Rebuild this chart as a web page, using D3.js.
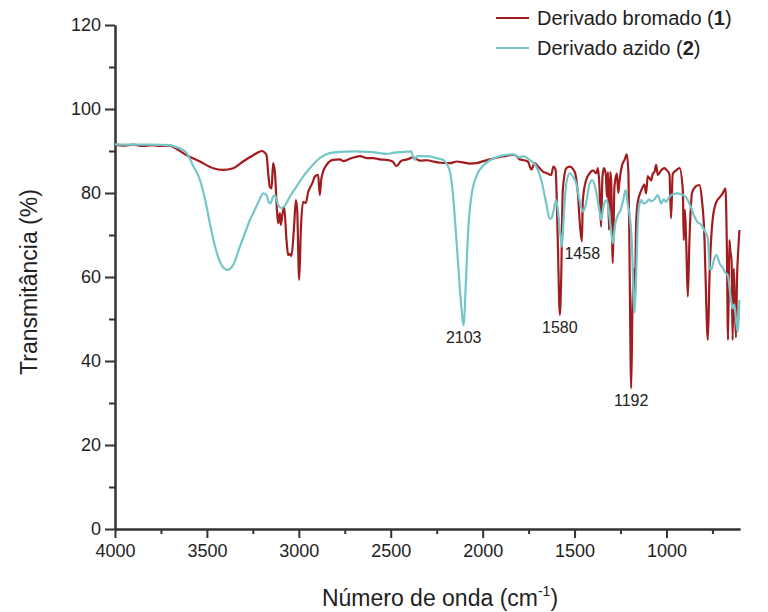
<!doctype html>
<html lang="pt">
<head>
<meta charset="UTF-8">
<title>Espectro de IV</title>
<style>
  body { margin: 0; background: #fff; }
  svg { display: block; font-family: "Liberation Sans", Arial, sans-serif; }
  .axis path, .axis line { stroke: #333; stroke-width: 2; }
  .axis text { font-size: 18px; fill: #222; }
  .serie { fill: none; stroke-width: 2.2; stroke-linejoin: round; }
</style>
</head>
<body>
<svg id="chart" width="768" height="612"></svg>
<script src="https://d3js.org/d3.v7.min.js"></script>
<script>
// Derivado bromado (1)
var bromWn = [4000, 3950, 3900, 3850, 3800, 3750, 3700, 3685, 3610, 3538, 3466, 3413, 3357, 3303, 3248, 3200,
  3185, 3176, 3165, 3158, 3148, 3140, 3130, 3118, 3112, 3103, 3098, 3089, 3080, 3067, 3058, 3049, 3040, 3027,
  3016, 3009, 2998, 2989, 2977, 2962, 2949, 2940, 2926, 2913, 2895, 2886, 2877, 2849, 2814, 2777, 2759, 2720,
  2668, 2630, 2596, 2560, 2523, 2490, 2469, 2442, 2410, 2379, 2342, 2300, 2270, 2230, 2179, 2140, 2107, 2070,
  2034, 1995, 1962, 1925, 1890, 1835, 1815, 1799, 1775, 1754, 1735, 1717, 1700, 1672, 1650, 1627, 1615, 1603,
  1592, 1580, 1573, 1564, 1545, 1527, 1500, 1482, 1470, 1460, 1455, 1437, 1418, 1400, 1382, 1373, 1365, 1356,
  1348, 1340, 1330, 1324, 1318, 1313, 1306, 1301, 1292, 1283, 1270, 1262, 1255, 1241, 1228, 1216, 1207, 1201,
  1192, 1185, 1178, 1172, 1165, 1156, 1138, 1120, 1111, 1102, 1083, 1075, 1065, 1056, 1047, 1029, 1011, 1002,
  984, 975, 966, 947, 929, 911, 906, 900, 893, 884, 875, 861, 842, 821, 807, 793, 788, 775, 766, 749, 730, 712,
  694, 679, 672, 665, 658, 652, 646, 640, 634, 628, 622, 616, 610, 603];
var bromT = [91.5, 91.3, 91.5, 91.2, 91.4, 91.2, 91.3, 91.0, 89.0, 87.5, 85.9, 85.5, 85.9, 87.5, 89.0, 90.0,
  89.6, 89.0, 84.0, 81.5, 81.1, 87.1, 84.8, 75.2, 72.8, 75.2, 72.4, 75.0, 76.7, 68.8, 65.2, 65.5, 65.0, 71.2,
  78.3, 76.0, 59.3, 71.2, 77.9, 77.6, 80.3, 81.2, 82.4, 83.9, 84.3, 79.5, 83.5, 86.7, 87.9, 88.0, 87.6, 88.2,
  88.8, 88.3, 88.3, 88.0, 87.9, 87.5, 86.4, 87.7, 88.0, 88.5, 87.7, 87.8, 87.5, 87.2, 87.1, 87.5, 87.3, 87.0,
  87.1, 87.6, 88.0, 88.4, 88.7, 89.1, 88.8, 88.0, 87.8, 87.5, 85.6, 87.1, 86.4, 85.1, 84.7, 84.3, 86.3, 85.5,
  70.0, 51.0, 59.3, 80.7, 85.9, 86.3, 85.1, 79.9, 72.0, 68.5, 78.3, 83.1, 84.7, 85.4, 84.7, 85.9, 82.0, 72.0,
  84.0, 85.9, 84.5, 79.1, 85.0, 71.2, 85.0, 83.1, 63.3, 81.5, 84.7, 80.0, 83.1, 86.7, 87.9, 89.2, 84.7, 65.0,
  33.5, 53.0, 62.0, 53.0, 72.8, 77.9, 80.5, 82.0, 79.9, 84.0, 83.0, 84.5, 85.1, 86.7, 84.3, 85.4, 85.9, 85.6,
  84.5, 74.0, 84.5, 85.4, 85.9, 80.7, 68.8, 76.0, 68.8, 55.3, 68.8, 80.0, 81.5, 81.9, 78.3, 68.8, 61.0, 45.0,
  60.0, 73.6, 77.7, 78.9, 79.9, 81.1, 68.8, 45.0, 68.8, 66.0, 64.0, 45.0, 62.0, 54.0, 45.6, 60.0, 66.0, 71.2];

// Derivado azido (2)
var azidoWn = [4000, 3900, 3800, 3700, 3674, 3640, 3610, 3575, 3538, 3510, 3484, 3460, 3439, 3410, 3391, 3357,
  3321, 3290, 3266, 3248, 3220, 3194, 3176, 3165, 3155, 3140, 3130, 3112, 3094, 3076, 3049, 3013, 2977, 2940,
  2886, 2832, 2777, 2700, 2620, 2560, 2523, 2480, 2420, 2388, 2378, 2370, 2357, 2330, 2288, 2250, 2216, 2190,
  2175, 2161, 2148, 2134, 2120, 2103, 2095, 2087, 2080, 2062, 2034, 1998, 1960, 1926, 1880, 1835, 1800, 1781,
  1745, 1708, 1681, 1654, 1636, 1625, 1618, 1600, 1591, 1578, 1569, 1558, 1545, 1527, 1509, 1491, 1473, 1455,
  1440, 1418, 1404, 1386, 1368, 1355, 1342, 1324, 1306, 1292, 1279, 1264, 1249, 1237, 1222, 1210, 1201, 1189,
  1174, 1165, 1156, 1150, 1138, 1125, 1111, 1095, 1083, 1065, 1047, 1029, 1015, 1002, 985, 966, 939, 911, 893,
  884, 866, 848, 830, 812, 793, 775, 766, 757, 739, 727, 712, 694, 679, 667, 649, 640, 631, 622, 613, 603];
var azidoT = [91.6, 91.5, 91.5, 91.4, 91.0, 90.5, 89.5, 86.5, 83.1, 78.5, 72.8, 68.0, 64.8, 62.2, 61.7, 62.9,
  67.2, 70.8, 73.6, 75.2, 77.8, 79.9, 79.5, 78.0, 77.5, 79.1, 79.5, 77.1, 76.4, 77.0, 79.1, 81.5, 83.9, 85.9,
  88.3, 89.5, 89.8, 89.9, 89.8, 89.5, 89.3, 89.6, 89.8, 89.9, 88.6, 87.9, 88.8, 88.8, 88.7, 88.3, 87.9, 86.5,
  84.5, 79.5, 72.0, 63.5, 55.0, 48.5, 55.0, 63.0, 70.0, 79.0, 84.0, 86.5, 87.8, 88.5, 89.0, 89.2, 88.5, 88.8,
  87.9, 86.3, 83.1, 77.5, 73.9, 74.0, 75.0, 78.3, 76.0, 70.4, 67.2, 75.0, 82.3, 84.7, 83.9, 82.3, 78.3, 75.6,
  77.0, 82.3, 83.1, 81.1, 76.7, 73.6, 77.0, 78.3, 72.8, 68.0, 72.5, 74.8, 76.0, 78.0, 80.7, 77.1, 75.0, 68.8,
  51.5, 60.0, 72.8, 76.7, 78.3, 77.5, 77.7, 78.5, 78.0, 78.5, 79.5, 77.5, 78.5, 77.9, 79.0, 79.7, 79.9, 79.5, 79.0,
  78.3, 76.5, 74.4, 73.0, 72.5, 71.0, 69.2, 62.4, 61.7, 64.5, 65.2, 63.3, 62.2, 61.0, 60.5, 54.5, 52.5, 53.5, 50.0, 47.0, 54.5];

// ticks
var xMajor = [4000, 3500, 3000, 2500, 2000, 1500, 1000];
var xMinor = [3750, 3250, 2750, 2250, 1750, 1250, 750];
var yMajor = [0, 20, 40, 60, 80, 100, 120];
var yMinor = [10, 30, 50, 70, 90, 110];

// peak annotations
var peakWn = [2103, 1580, 1458, 1192];
var peakSerie = ["azido", "brom", "brom", "brom"];

var seriesNames = ["Derivado bromado (", "Derivado azido ("];
var seriesNums = ["1", "2"];
var colors = ["#a11c1f", "#74c7c6"];

var svg = d3.select("#chart");
var plotLeft = 115, plotRight = 740, plotTop = 25, plotBottom = 529;

var x = d3.scaleLinear().domain([4000, 600]).range([plotLeft, plotRight]);
var y = d3.scaleLinear().domain([0, 120]).range([plotBottom, plotTop]);

// minor ticks first
svg.append("g").attr("class", "axis")
  .attr("transform", "translate(0," + plotBottom + ")")
  .call(d3.axisBottom(x).tickValues(xMinor).tickSize(5).tickSizeOuter(0).tickFormat(""));
svg.append("g").attr("class", "axis")
  .attr("transform", "translate(" + plotLeft + ",0)")
  .call(d3.axisLeft(y).tickValues(yMinor).tickSize(6).tickSizeOuter(0).tickFormat(""));

svg.append("g").attr("class", "axis")
  .attr("transform", "translate(0," + plotBottom + ")")
  .call(d3.axisBottom(x).tickValues(xMajor).tickSize(9).tickSizeOuter(0).tickPadding(6).tickFormat(d3.format("d")));
svg.append("g").attr("class", "axis")
  .attr("transform", "translate(" + plotLeft + ",0)")
  .call(d3.axisLeft(y).tickValues(yMajor).tickSize(10).tickSizeOuter(0).tickPadding(4));

var line = d3.line()
  .curve(d3.curveMonotoneX)
  .x(function(d) { return x(d[0]); })
  .y(function(d) { return y(d[1]); });

var brom = bromWn.map(function(w, i) { return [w, bromT[i]]; });
var azido = azidoWn.map(function(w, i) { return [w, azidoT[i]]; });

svg.append("path").datum(brom).attr("class", "serie").attr("stroke", colors[0]).attr("d", line);
svg.append("path").datum(azido).attr("class", "serie").attr("stroke", colors[1]).attr("d", line);

// peak labels under the minimum of each band
peakWn.forEach(function(w, i) {
  var data = peakSerie[i] == "brom" ? brom : azido;
  var near = data.filter(function(d) { return Math.abs(d[0] - w) < 15; });
  var minT = d3.min(near, function(d) { return d[1]; });
  svg.append("text")
    .attr("x", x(w))
    .attr("y", y(minT) + 18)
    .attr("text-anchor", "middle")
    .attr("font-size", 16)
    .attr("fill", "#222")
    .text(w);
});

// axis titles
svg.append("text")
  .attr("transform", "translate(29," + ((plotTop + plotBottom) / 2 + 5) + ") rotate(-90)")
  .attr("text-anchor", "middle")
  .attr("dominant-baseline", "central")
  .attr("font-size", 23)
  .attr("fill", "#222")
  .text("Transmitância (%)");

var xt = svg.append("text")
  .attr("x", 440).attr("y", 606)
  .attr("text-anchor", "middle")
  .attr("font-size", 23)
  .attr("fill", "#222");
xt.append("tspan").text("Número de onda (cm");
xt.append("tspan").attr("font-size", 14).attr("dy", -10).text("-1");
xt.append("tspan").attr("dy", 10).text(")");

// legend
var leg = svg.append("g");
seriesNames.forEach(function(n, i) {
  var ly = 18 + i * 30;
  leg.append("line")
    .attr("x1", 496).attr("x2", 529)
    .attr("y1", ly).attr("y2", ly)
    .attr("stroke", colors[i]).attr("stroke-width", 2);
  var t = leg.append("text")
    .attr("x", 537).attr("y", ly + 7)
    .attr("font-size", 20)
    .attr("fill", "#222");
  t.append("tspan").text(n);
  t.append("tspan").attr("font-weight", "bold").text(seriesNums[i]);
  t.append("tspan").text(")");
});
</script>
</body>
</html>
